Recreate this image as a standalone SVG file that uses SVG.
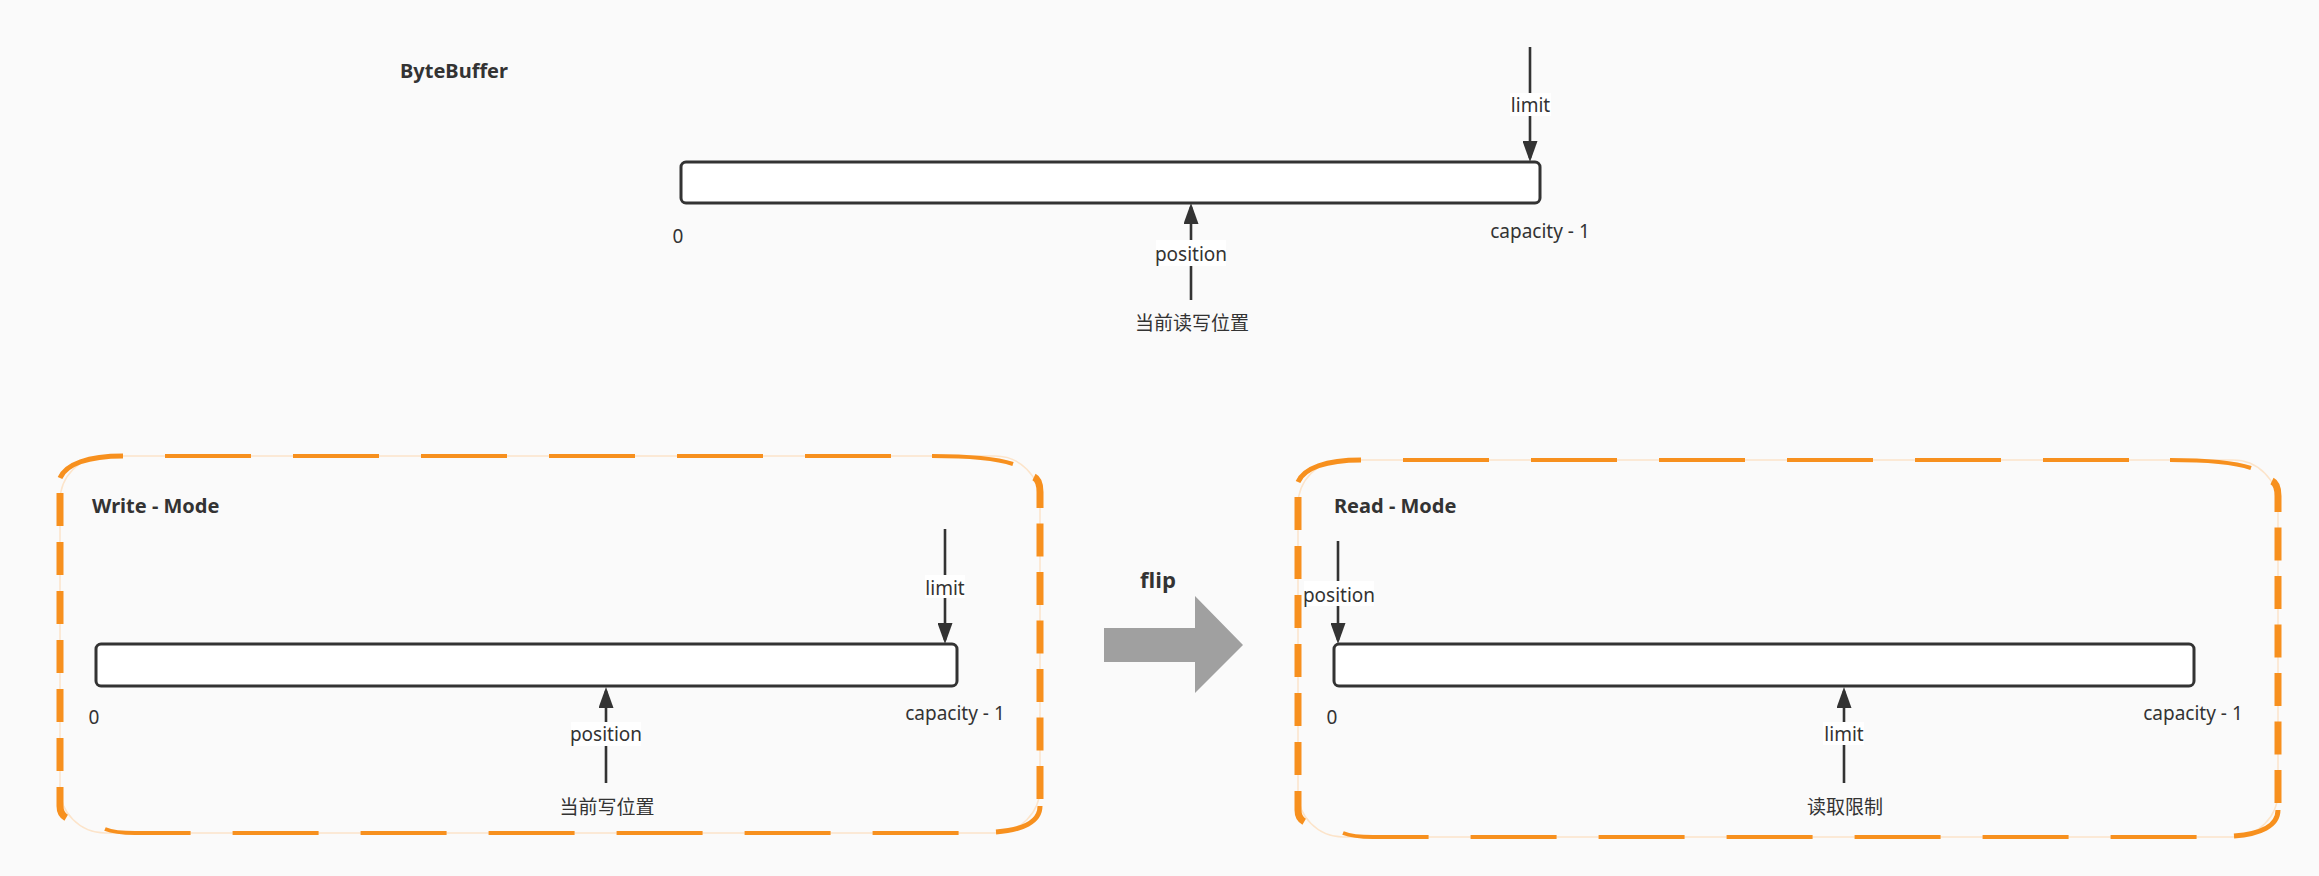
<svg xmlns="http://www.w3.org/2000/svg" width="2319" height="876" viewBox="0 0 2319 876">
<style>
.bg{fill:#FAFAFA}
.bar{fill:#FFFFFF;stroke:#333333;stroke-width:3}
.conn{stroke:#333333;stroke-width:2.6;fill:none}
.lbl{fill:#FFFFFF;stroke:none}
.t{font-family:"Noto Sans","Liberation Sans",sans-serif;font-size:19px;fill:#333333;text-anchor:middle}
.cjk{font-family:"Noto Sans","Noto Sans CJK SC",sans-serif;font-size:19px;fill:#333333;text-anchor:middle}
.title{font-family:"Noto Sans","Liberation Sans",sans-serif;font-size:20px;font-weight:bold;fill:#333333}
.flip{font-family:"Open Sans","Noto Sans",sans-serif;font-size:22px;font-weight:bold;fill:#333333}
.h{fill:none;stroke:#F7901E;stroke-width:4}
.v{fill:none;stroke:#F7901E;stroke-width:7}
.c{fill:none;stroke:#F7901E;stroke-width:5}
</style>
<defs>
<marker id="ah" markerUnits="userSpaceOnUse" markerWidth="21" markerHeight="15" refX="17" refY="7.5" orient="auto">
<path d="M0,0 L21,7.5 L0,15 Z" fill="#333333"/>
</marker>
<g id="border">
<rect x="0" y="0" width="980" height="377" rx="45" fill="none" stroke="#FCE4CA" stroke-width="1.5"/>
<path class="c" d="M0,22 C6,8 28,0 63,0"/>
<path class="h" d="M63,0 H872" stroke-dasharray="86 42" stroke-dashoffset="86"/>
<path class="h" d="M872,0 C915,0 938,3 953,8"/>
<path class="v" d="M974,21 Q980,24 980,36 V346" stroke-dasharray="33 15.5"/>
<path class="c" d="M980,350 C980,366 962,374 936,376"/>
<path class="h" d="M45,373 Q55,377 75,377 H936" stroke-dasharray="86 42"/>
<path class="v" d="M0,37 V350 Q0,362 13,364" stroke-dasharray="33 16"/>
</g>
</defs>
<rect class="bg" x="0" y="0" width="2319" height="876"/>

<g id="bytebuffer">
<text class="title" x="400" y="78">ByteBuffer</text>
<rect class="bar" x="681" y="162" width="859" height="41" rx="5"/>
<text class="t" x="678" y="243">0</text>
<text class="t" x="1540" y="238">capacity - 1</text>
<text class="cjk" x="1192" y="330">当前读写位置</text>
</g>

<g id="write-mode">
<use href="#border" transform="translate(60,456)"/>
<text class="title" x="92" y="513">Write - Mode</text>
<rect class="bar" x="96" y="644" width="861" height="42" rx="5"/>
<text class="t" x="94" y="724">0</text>
<text class="t" x="955" y="720">capacity - 1</text>
<text class="cjk" x="607" y="814">当前写位置</text>
</g>

<g id="flip">
<text class="flip" x="1140" y="588">flip</text>
<polygon points="1104,628 1195,628 1195,596 1243,645 1195,693 1195,662 1104,662" fill="#A0A0A0"/>
</g>

<g id="read-mode">
<use href="#border" transform="translate(1298,460)"/>
<text class="title" x="1334" y="513">Read - Mode</text>
<rect class="bar" x="1334" y="644" width="860" height="42" rx="5"/>
<text class="t" x="1332" y="724">0</text>
<text class="t" x="2193" y="720">capacity - 1</text>
<text class="cjk" x="1845" y="814">读取限制</text>
</g>

<g id="connectors">
<line class="conn" x1="1530" y1="47" x2="1530" y2="158" marker-end="url(#ah)"/>
<rect class="lbl" x="1510" y="93" width="41" height="23"/>
<text class="t" x="1530.5" y="112">limit</text>

<line class="conn" x1="1191" y1="300" x2="1191" y2="207" marker-end="url(#ah)"/>
<rect class="lbl" x="1156" y="240" width="70" height="26"/>
<text class="t" x="1191" y="261">position</text>

<line class="conn" x1="945" y1="529" x2="945" y2="640" marker-end="url(#ah)"/>
<rect class="lbl" x="925" y="575" width="40" height="23"/>
<text class="t" x="945" y="595">limit</text>

<line class="conn" x1="606" y1="783" x2="606" y2="691" marker-end="url(#ah)"/>
<rect class="lbl" x="571" y="722" width="70" height="24"/>
<text class="t" x="606" y="741">position</text>

<line class="conn" x1="1338" y1="541" x2="1338" y2="640" marker-end="url(#ah)"/>
<rect class="lbl" x="1304" y="581" width="70" height="25"/>
<text class="t" x="1339" y="602">position</text>

<line class="conn" x1="1844" y1="783" x2="1844" y2="691" marker-end="url(#ah)"/>
<rect class="lbl" x="1823" y="722" width="41" height="23"/>
<text class="t" x="1844" y="741">limit</text>
</g>
</svg>
